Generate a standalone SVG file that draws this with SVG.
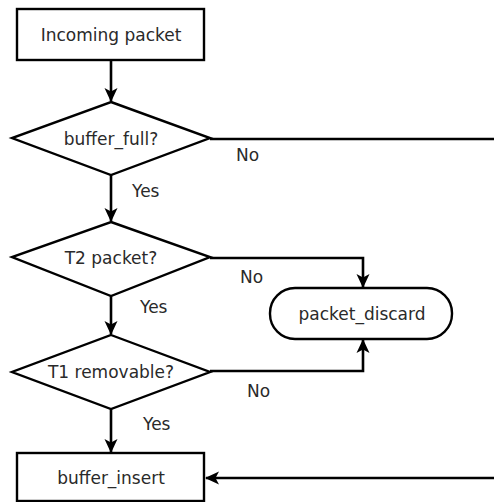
<svg xmlns="http://www.w3.org/2000/svg" width="494" height="502" viewBox="0 0 494 502">
<style>
.shape{fill:#fff;stroke:#000;stroke-width:2.4}
.conn{fill:none;stroke:#000;stroke-width:2.6}
text{font-family:"DejaVu Sans",sans-serif;font-size:17px;fill:#2a2a2a}
.c{text-anchor:middle}
</style>
<defs>
<marker id="arr" viewBox="0 0 14 14" refX="13" refY="7" markerWidth="14" markerHeight="14" markerUnits="userSpaceOnUse" orient="auto">
<path d="M0,0.5 L14,7 L0,13.5 L3.5,7 z" fill="#000"/>
</marker>
</defs>
<rect width="494" height="502" fill="#fff"/>
<g id="connectors">
<path class="conn" d="M111,60 V101" marker-end="url(#arr)"/>
<path class="conn" d="M111,175 V221" marker-end="url(#arr)"/>
<path class="conn" d="M111,296 V334" marker-end="url(#arr)"/>
<path class="conn" d="M111,409 V452" marker-end="url(#arr)"/>
<path class="conn" d="M210,139 H510 V478 H206" marker-end="url(#arr)"/>
<path class="conn" d="M210,258 H363 V287" marker-end="url(#arr)"/>
<path class="conn" d="M210,371 H363 V340" marker-end="url(#arr)"/>
<text x="236" y="161">No</text>
<text x="240" y="283">No</text>
<text x="247" y="397">No</text>
<text x="132" y="197">Yes</text>
<text x="140" y="313">Yes</text>
<text x="143" y="430">Yes</text>
</g>
<g id="incoming">
<rect class="shape" x="17" y="9" width="187" height="51"/>
<text class="c" x="111" y="41">Incoming packet</text>
</g>
<g id="buffer_full">
<polygon class="shape" points="111,102 210,138 111,175 12,138"/>
<text class="c" x="111" y="145">buffer_full?</text>
</g>
<g id="t2">
<polygon class="shape" points="111,222 210,257 111,296 12,257"/>
<text class="c" x="111" y="264">T2 packet?</text>
</g>
<g id="t1">
<polygon class="shape" points="111,335 210,372 111,409 12,372"/>
<text class="c" x="111" y="378">T1 removable?</text>
</g>
<g id="packet_discard">
<rect class="shape" x="270" y="288" width="182" height="51" rx="25" ry="25"/>
<text class="c" x="362" y="320">packet_discard</text>
</g>
<g id="buffer_insert">
<rect class="shape" x="17" y="453" width="187" height="48"/>
<text class="c" x="111" y="484">buffer_insert</text>
</g>
</svg>
